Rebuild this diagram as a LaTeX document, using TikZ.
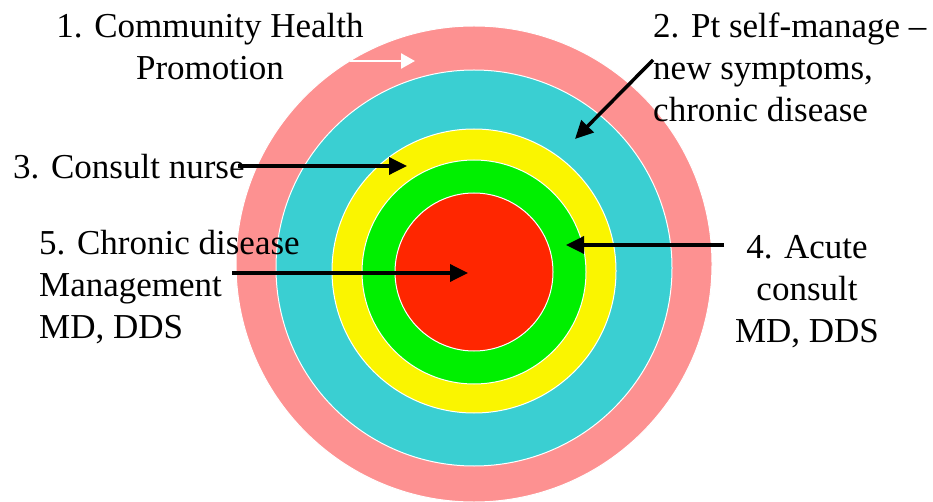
\documentclass[tikz,border=0pt]{standalone}
\usepackage{fontspec}
\setmainfont{Liberation Serif}
\usetikzlibrary{arrows.meta}

\definecolor{ringpink}{RGB}{253,145,145}
\definecolor{ringteal}{RGB}{58,207,210}
\definecolor{ringyellow}{RGB}{250,245,0}
\definecolor{ringgreen}{RGB}{0,240,0}
\definecolor{ringred}{RGB}{255,38,0}

\begin{document}
\begin{tikzpicture}[x=1pt,y=-1pt,
  ringtext/.style={font=\fontsize{35}{42}\selectfont, inner sep=0pt},
  pointer/.style={line width=3.5pt, -{Triangle[length=18pt,width=17pt]}}]

\useasboundingbox (0,0) rectangle (933,502);

% rings, outermost first
\foreach \r/\c/\dy in {238/ringpink/264, 198/ringteal/268, 142/ringyellow/271, 112/ringgreen/272, 79/ringred/272}
  \draw[white, line width=1pt, fill=\c] (474,\dy) circle (\r);

% text (manual positions, baseline of last line)
\node[ringtext, align=center, anchor=base] (promo) at (210,80) {1. Community Health\\Promotion};
\node[ringtext, align=left, anchor=base west] (selfman) at (653,122) {2. Pt self-manage --\\new symptoms,\\chronic disease};
\node[ringtext, anchor=base west] (nurse) at (13,179) {3. Consult nurse};
\node[ringtext, align=center, anchor=base] (acute) at (807,342) {4. Acute\\consult\\MD, DDS};
\node[ringtext, align=left, anchor=base west] (chronic) at (39,338) {5. Chronic disease\\Management\\MD, DDS};

% arrow ends
\coordinate (promo tail) at (350,61);
\coordinate (promo tip) at (415,61);
\coordinate (selfman tail) at (653,60);
\coordinate (selfman tip) at (575,139);
\coordinate (nurse tail) at (238,166);
\coordinate (nurse tip) at (407,166);
\coordinate (acute tail) at (724,245);
\coordinate (acute tip) at (566,245);
\coordinate (chronic tail) at (232,273);
\coordinate (chronic tip) at (468,273);

% arrows
\draw[white, line width=2.5pt, -{Triangle[length=14pt,width=15pt]}] (promo tail) -- (promo tip);
\draw[pointer] (selfman tail) -- (selfman tip);
\draw[pointer] (nurse tail) -- (nurse tip);
\draw[pointer] (acute tail) -- (acute tip);
\draw[pointer] (chronic tail) -- (chronic tip);

\end{tikzpicture}
\end{document}
